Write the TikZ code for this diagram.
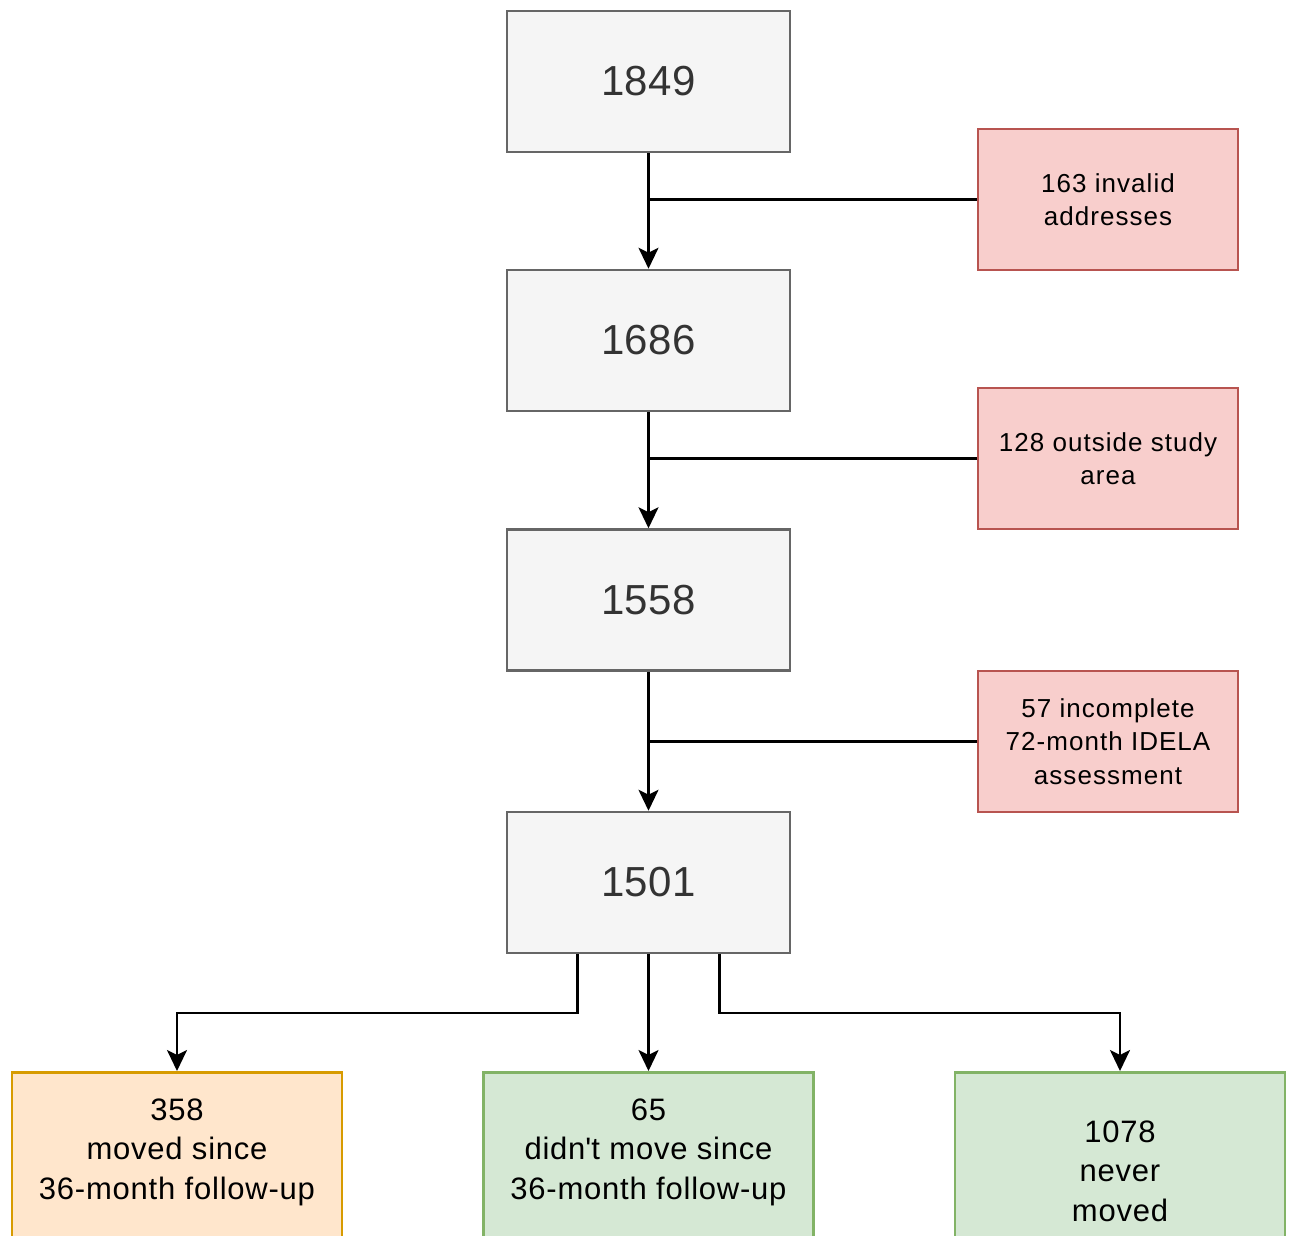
\documentclass[tikz,border=0pt]{standalone}
\usepackage{fontspec}
\setmainfont{Liberation Sans}
\usetikzlibrary{arrows.meta,calc}
\definecolor{grayfill}{HTML}{F5F5F5}
\definecolor{grayline}{HTML}{666666}
\definecolor{graytext}{HTML}{333333}
\definecolor{redfill}{HTML}{F8CECC}
\definecolor{redline}{HTML}{B85450}
\definecolor{orfill}{HTML}{FFE6CC}
\definecolor{orline}{HTML}{D79B00}
\definecolor{grfill}{HTML}{D5E8D4}
\definecolor{grline}{HTML}{82B366}
\begin{document}
\begin{tikzpicture}[x=1pt,y=-1pt,
  countbox/.style={draw=grayline,fill=grayfill,line width=2.5pt,inner sep=0pt,
    minimum width=283pt,minimum height=141pt,text=graytext,
    font=\fontsize{42}{50}\selectfont\addfontfeatures{LetterSpace=1}},
  exclbox/.style={draw=redline,fill=redfill,line width=2.5pt,inner sep=0pt,
    minimum width=260pt,minimum height=141pt,align=center,
    font=\fontsize{26}{33.5}\selectfont\addfontfeatures{LetterSpace=4}},
  outbox/.style={line width=2.5pt,inner sep=0pt,minimum width=330pt,
    minimum height=220pt,anchor=north},
  outtext/.style={align=center,font=\fontsize{31}{39.5}\selectfont\addfontfeatures{LetterSpace=2.5}},
  conn/.style={line width=2.5pt,draw=black},
  arr/.style={conn,-{Stealth[length=21pt,width=20pt,inset=5pt]}}
]
\clip (0,0) rectangle (1290,1235);
\fill[white] (0,0) rectangle (1290,1235);

\node[countbox] (n1) at (648.5,81.5) {1849};
\node[countbox] (n2) at (648.5,340.5) {1686};
\node[countbox] (n3) at (648.5,600) {1558};
\node[countbox] (n4) at (648.5,882.5) {1501};

\node[exclbox] (r1) at (1108,199.5) {163 invalid\\addresses};
\node[exclbox] (r2) at (1108,458.5) {128 outside study\\area};
\node[exclbox] (r3) at (1108,741.5) {57 incomplete\\72-month IDELA\\assessment};

\node[outbox,draw=orline,fill=orfill] (b1) at (177,1071) {};
\node[outbox,draw=grline,fill=grfill] (b2) at (648.5,1071) {};
\node[outbox,draw=grline,fill=grfill] (b3) at (1120,1071) {};
\node[outtext] (t1) at (177,1152) {358\\moved since\\36-month follow-up};
\node[outtext] (t2) at (648.5,1152) {65\\didn\textquotesingle t move since\\36-month follow-up};
\node[outtext] (t3) at (1120,1171) {1078\\never\\moved};

\draw[arr] (n1) -- (n2);
\draw[arr] (n2) -- (n3);
\draw[arr] (n3) -- (n4);
\draw[conn] (r1.west) -- (r1.west -| n1.south);
\draw[conn] (r2.west) -- (r2.west -| n2.south);
\draw[conn] (r3.west) -- (r3.west -| n3.south);

\coordinate (jL) at (177,1013);
\coordinate (jR) at (1120,1013);
\draw[arr] ([xshift=-71pt]n4.south) |- (jL) -- (b1.north);
\draw[arr] (n4.south) -- (b2.north);
\draw[arr] ([xshift=71pt]n4.south) |- (jR) -- (b3.north);
\end{tikzpicture}
\end{document}
